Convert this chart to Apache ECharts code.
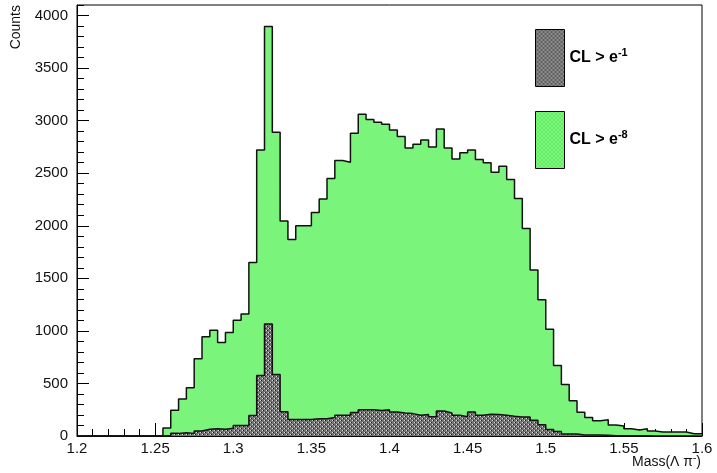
<!DOCTYPE html>
<html>
<head>
<meta charset="utf-8">
<script src="https://cdn.jsdelivr.net/npm/echarts@6/dist/echarts.min.js"></script>
<style>
  html, body { margin: 0; padding: 0; background: #fff; }
  #chart { width: 717px; height: 473px; }
</style>
</head>
<body>
<div id="chart"></div>
<script>
// histogram binning: 80 bins of 0.005 from 1.2 to 1.6
const binStart = 1.2
const binWidth = 0.005

// CL > e^-1 (grey)
const tightCounts = [
  0, 0, 0, 0, 0, 0, 0, 0, 0, 0,
  0, 5, 25, 32, 25, 48, 64, 70, 64, 73,
  100, 100, 195, 575, 1065, 585, 230, 158, 158, 158,
  165, 165, 175, 197, 197, 223, 250, 250, 242, 250,
  229, 219, 213, 197, 204, 184, 238, 219, 197, 184,
  229, 197, 207, 204, 197, 188, 181, 181, 150, 108,
  62, 42, 20, 20, 10, 10, 10, 8, 3, 3,
  2, 2, 2, 1, 1, 1, 0, 0, 0, 0
]

// CL > e^-8 (green)
const looseCounts = [
  0, 0, 0, 0, 0, 0, 0, 0, 0, 0,
  0, 75, 245, 352, 460, 735, 945, 1005, 890, 985,
  1100, 1160, 1650, 2720, 3895, 2890, 2045, 1870, 2000, 2000,
  2125, 2255, 2450, 2620, 2605, 2880, 3060, 3010, 2985, 2965,
  2910, 2850, 2740, 2775, 2815, 2750, 2920, 2740, 2635, 2695,
  2720, 2630, 2600, 2510, 2565, 2440, 2260, 1975, 1580, 1295,
  1015, 670, 490, 335, 225, 175, 145, 155, 105, 95,
  70, 58, 70, 48, 38, 38, 38, 38, 22, 22
]

const seriesNames = ['CL > e^-1', 'CL > e^-8']
const legendLabels = {
  'CL > e^-1': '{m|CL > e}{s|-1}',
  'CL > e^-8': '{m|CL > e}{s|-8}'
}

const FONT = 'Liberation Sans, Arial, Helvetica, sans-serif'
const GREEN = '#7af47a'

// turn bin contents into step points (left edges + closing right edge)
function toSteps(counts) {
  const pts = counts.map((v, i) => [+(binStart + i * binWidth).toFixed(4), v])
  pts.push([+(binStart + counts.length * binWidth).toFixed(4), counts[counts.length - 1]])
  return pts
}

// ROOT-like dotted fill, 8x8 tile
function makePattern(base, light, dark) {
  const c = document.createElement('canvas')
  c.width = 8
  c.height = 8
  const ctx = c.getContext('2d')
  ctx.fillStyle = base
  ctx.fillRect(0, 0, 8, 8)
  for (let y = 0; y < 8; y += 2) {
    for (let x = (y % 4 === 0 ? 0 : 2); x < 8; x += 4) {
      ctx.fillStyle = light
      ctx.fillRect(x, y, 1, 1)
      if (dark) {
        ctx.fillStyle = dark
        ctx.fillRect(x + 1, y, 1, 1)
      }
    }
  }
  return { image: c, repeat: 'repeat' }
}

const greenFill = makePattern('#5ef05e', '#f0fff0', null)
const greyFill = makePattern('#747474', '#e0e0e0', '#1a1a1a')

const chart = echarts.init(document.getElementById('chart'))

const option = {
  animation: false,
  backgroundColor: '#fff',
  grid: {
    left: 77, right: 15, top: 5, bottom: 37,
    show: true, borderColor: '#000', borderWidth: 1
  },
  legend: {
    orient: 'vertical',
    left: 535,
    top: 29,
    padding: 0,
    itemWidth: 29,
    itemHeight: 57,
    itemGap: 24,
    selectedMode: false,
    data: [
      { name: seriesNames[0], icon: 'rect', itemStyle: { color: greyFill, borderColor: '#000', borderWidth: 1 } },
      { name: seriesNames[1], icon: 'rect', itemStyle: { color: greenFill, borderColor: '#000', borderWidth: 1 } }
    ],
    formatter: name => legendLabels[name],
    textStyle: {
      rich: {
        m: { fontFamily: FONT, fontSize: 16, fontWeight: 'bold', color: '#000', lineHeight: 22 },
        s: { fontFamily: FONT, fontSize: 11, fontWeight: 'bold', color: '#000', lineHeight: 11, verticalAlign: 'top' }
      }
    }
  },
  xAxis: {
    type: 'value',
    min: 1.2,
    max: 1.6,
    interval: 0.05,
    axisLine: { lineStyle: { color: '#000', width: 1 } },
    axisTick: { inside: true, length: 13, lineStyle: { color: '#000' } },
    minorTick: { show: true, splitNumber: 5, length: 7, lineStyle: { color: '#000' } },
    axisLabel: { fontFamily: FONT, fontSize: 15, color: '#111', margin: 5 },
    splitLine: { show: false }
  },
  yAxis: [
    {
      type: 'value',
      position: 'left',
      min: 0,
      max: 4100,
      interval: 500,
      axisLine: { show: true, lineStyle: { color: '#000', width: 1 } },
      axisTick: { show: true, inside: true, length: 12, lineStyle: { color: '#000' } },
      axisLabel: {
        fontFamily: FONT, fontSize: 15, color: '#111', margin: 9, showMaxLabel: false,
        formatter: v => String(v)
      },
      splitLine: { show: false }
    },
    {
      // minor ticks only
      type: 'value',
      position: 'left',
      min: 0,
      max: 4100,
      interval: 100,
      axisLine: { show: false },
      axisTick: { show: true, inside: true, length: 7, lineStyle: { color: '#000' } },
      axisLabel: { show: false },
      splitLine: { show: false }
    }
  ],
  series: [
    {
      name: seriesNames[1],
      type: 'line',
      step: 'end',
      symbol: 'none',
      data: toSteps(looseCounts),
      itemStyle: { color: GREEN },
      lineStyle: { color: '#111', width: 1.5 },
      areaStyle: { color: GREEN, opacity: 1 },
      emphasis: { disabled: true },
      z: 2
    },
    {
      name: seriesNames[0],
      type: 'line',
      step: 'end',
      symbol: 'none',
      data: toSteps(tightCounts),
      itemStyle: { color: greyFill },
      lineStyle: { color: '#111', width: 1.5 },
      areaStyle: { color: greyFill, opacity: 1 },
      emphasis: { disabled: true },
      z: 3
    }
  ],
  graphic: [
    {
      type: 'text',
      x: 16,
      y: 5,
      rotation: Math.PI / 2,
      style: { text: 'Counts', font: '14px ' + FONT, fill: '#111', align: 'right', verticalAlign: 'middle' }
    },
    {
      type: 'text',
      right: 16,
      top: 453,
      style: {
        text: '{n|Mass(Λ π}{s|-}{n|)}',
        fill: '#111',
        rich: {
          n: { fontFamily: FONT, fontSize: 14, lineHeight: 18 },
          s: { fontFamily: FONT, fontSize: 10, lineHeight: 10, verticalAlign: 'top' }
        }
      }
    }
  ]
}

chart.setOption(option)
</script>
</body>
</html>
